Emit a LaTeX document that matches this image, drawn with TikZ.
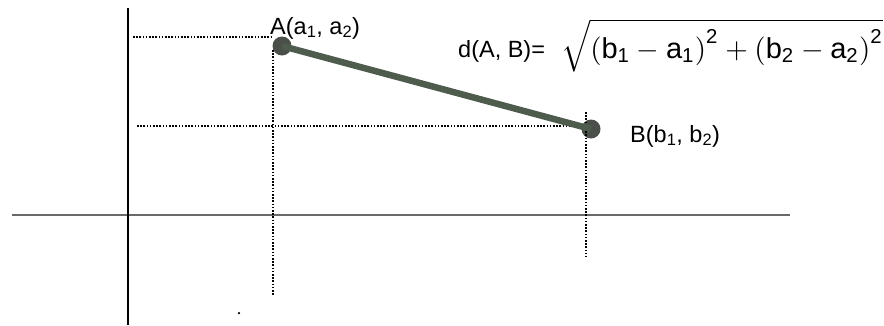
\documentclass[tikz,border=0pt]{standalone}
\usepackage{amsmath}
\usepackage{fontspec}
\setmainfont{Liberation Sans}
\definecolor{segcol}{HTML}{4E5C4E}
\definecolor{dotcol}{HTML}{4A4F4A}
\definecolor{axcol}{HTML}{6A6A6A}
\tikzset{
  axisv/.style={line width=1.6pt, black},
  axish/.style={line width=2.6pt, axcol},
  guide/.style={line width=1.6pt, black, dash pattern=on 1.6pt off 1.6pt},
  ptdot/.style={circle, fill=dotcol, minimum size=19pt, inner sep=0pt},
  seg/.style={line width=6.5pt, segcol},
  lbl/.style={inner sep=0pt, anchor=base west, font=\fontsize{23.5}{28}\selectfont},
}
\begin{document}
\begin{tikzpicture}[x=1pt,y=-1pt]
\useasboundingbox (0,0) rectangle (884,325);
% axes
\coordinate (vt) at (128,8);
\coordinate (vb) at (128,325);
\coordinate (hl) at (12,215);
\coordinate (hr) at (790,215);
\draw[axish] (hl) -- (hr);
\draw[axisv] (vt) -- (vb);
% points
\node[ptdot] (A) at (282,46) {};
\node[ptdot] (B) at (591,129) {};
% guide lines
\coordinate (ay) at (133,37);
\coordinate (ax) at (273,37);
\coordinate (axt) at (273,50);
\coordinate (axb) at (273,295);
\coordinate (by) at (137,126);
\coordinate (bx) at (586,126);
\coordinate (bxt) at (586,112);
\coordinate (bxb) at (586,257);
\draw[guide] (ay) -- (ax);
\draw[guide] (axt) -- (axb);
\draw[guide] (by) -- (bx);
\draw[guide] (bxt) -- (bxb);
% segment
\draw[seg] (A.center) -- (B.center);
% labels
\node[lbl] (la) at (270,34) {A(a\textsubscript{1}, a\textsubscript{2})};
\node[lbl] (lb) at (630,142) {B(b\textsubscript{1}, b\textsubscript{2})};
\node[lbl] (fm) at (458,57) {d(A, B)=};
\node[inner sep=0pt, anchor=base west] (sq) at (561,58) {\resizebox{322pt}{39pt}{\fontsize{10}{12}\selectfont$\sqrt{\left(\text{b}_{\text{1}}-\text{a}_{\text{1}}\right)^{\text{2}}+\left(\text{b}_{\text{2}}-\text{a}_{\text{2}}\right)^{\text{2}}}$}};
% stray dot
\node[circle, fill=black, minimum size=2.5pt, inner sep=0pt] (sd) at (239,313) {};
\end{tikzpicture}
\end{document}
